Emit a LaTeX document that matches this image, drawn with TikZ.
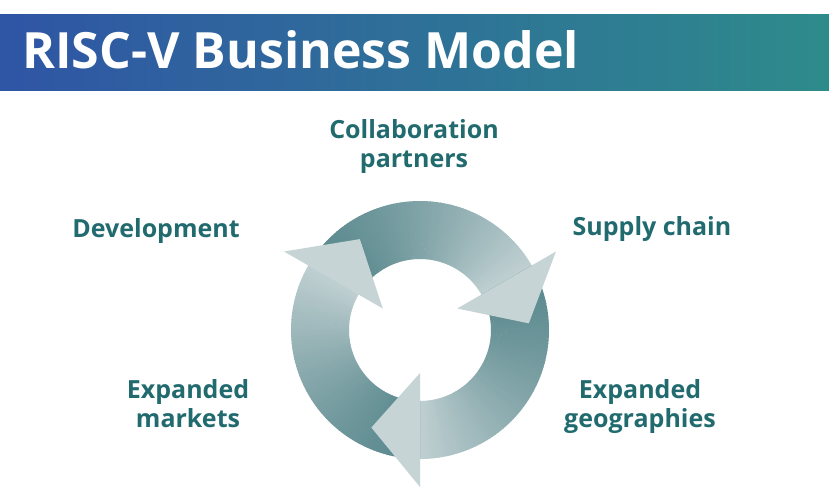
\documentclass[tikz,border=0pt]{standalone}
\usepackage{fontspec}
\setmainfont{Open Sans}
\definecolor{ringdark}{HTML}{5A898E}
\definecolor{ringlight}{HTML}{BFCFD1}
\definecolor{headcol}{HTML}{C6D4D6}
\definecolor{labelcol}{HTML}{216B6F}
\definecolor{barL}{HTML}{2F55A5}
\definecolor{barR}{HTML}{2E8B8B}
\begin{document}
\begin{tikzpicture}[x=1pt,y=1pt,
  lbl/.style={text=labelcol, font=\bfseries\fontsize{25}{29}\selectfont, align=center, inner sep=0pt}]
\useasboundingbox (0,0) rectangle (829,-498);
\fill[white] (0,0) rectangle (829,-498);
\shade[left color=barL, right color=barR] (0,-14) rectangle (829,-90);
\node[anchor=base west, text=white, font=\bfseries\fontsize{50}{58}\selectfont, inner sep=0pt] (title) at (22,-68) {RISC-V Business Model};

\begin{scope}[shift={(420,-330)}]
  \foreach \s in {150,30,-90}{
    \foreach \i in {0,...,79}{
      \pgfmathsetmacro{\a}{\s-1.5*\i}
      \pgfmathsetmacro{\b}{\s-1.5*\i-1.8}
      \pgfmathsetmacro{\p}{100-100*(\i/79)^1.4}
      \fill[ringdark!\p!ringlight] (\a:129) arc[start angle=\a, end angle=\b, radius=129] -- (\b:71) arc[start angle=\b, end angle=\a, radius=71] -- cycle;
    }
  }
  \foreach \s in {30,-90,-210}{
    \fill[headcol] (\s:43) -- (\s:157) -- (\s-26.5:109) -- cycle;
  }
\end{scope}

\node[lbl, anchor=base] (collab) at (414,-167) {Collaboration\\partners};
\node[lbl, anchor=base] (devel) at (156,-237) {Development};
\node[lbl, anchor=base] (supply) at (652,-235) {Supply chain};
\node[lbl, anchor=base] (markets) at (188,-427) {Expanded\\markets};
\node[lbl, anchor=base] (geo) at (640,-427) {Expanded\\geographies};
\end{tikzpicture}
\end{document}
